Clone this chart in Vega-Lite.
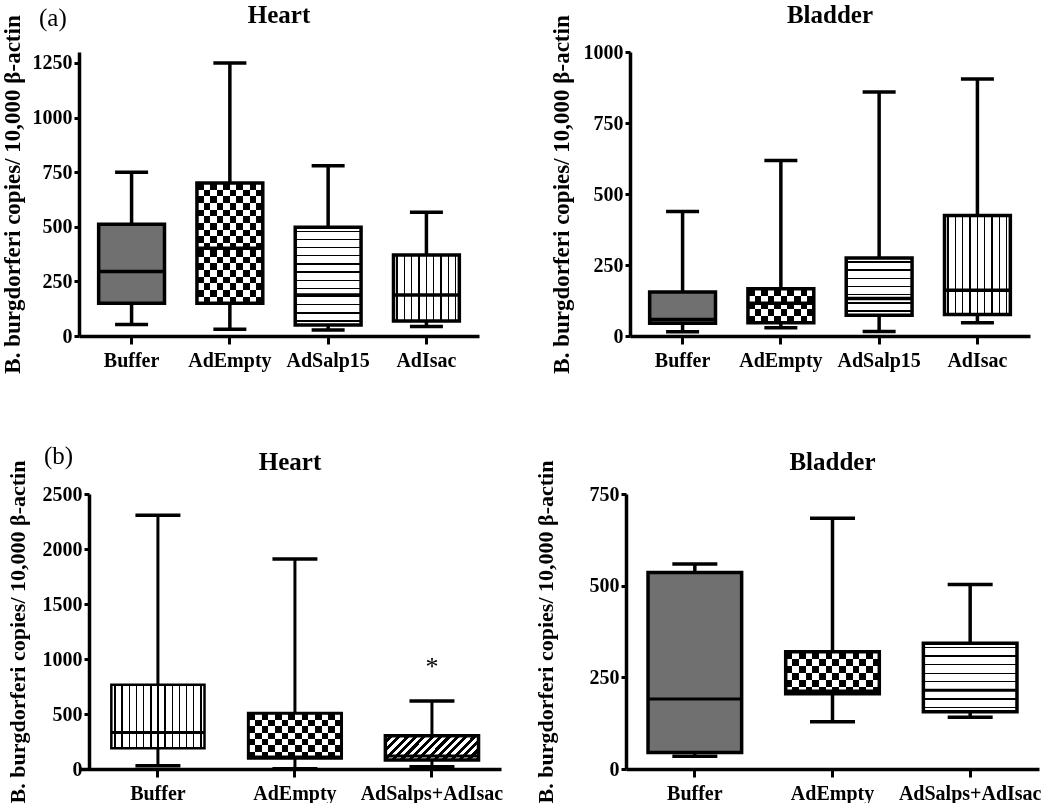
{
  "$schema": "https://vega.github.io/schema/vega-lite/v6.json",
  "padding": {"left": 0, "top": 2, "right": 0, "bottom": 0},
  "background": "white",
  "config": {
    "font": "Liberation Serif",
    "view": {"stroke": null},
    "tick": {"opacity": 1},
    "axisX": {"title": null, "labelAngle": 0, "labelFont": "Liberation Serif", "labelFontWeight": "bold", "labelFontSize": 20, "labelColor": "black", "domainColor": "black", "domainWidth": 3.5, "tickColor": "black", "tickWidth": 3, "tickSize": 8, "labelPadding": 6, "labelLimit": 300},
    "axisY": {"grid": false, "format": "d", "labelFont": "Liberation Serif", "labelFontWeight": "bold", "labelFontSize": 20, "labelColor": "black", "domainColor": "black", "domainWidth": 3.5, "tickColor": "black", "tickWidth": 3, "tickSize": 5, "labelPadding": 2, "titleFont": "Liberation Serif", "titleFontWeight": "bold", "titleFontSize": 23, "titleColor": "black", "titlePadding": 8},
    "title": {"font": "Liberation Serif", "fontWeight": "bold", "fontSize": 25, "color": "black", "frame": "group", "anchor": "middle"}
  },
  "spacing": 70,
  "columns": 1,
  "concat": [
    {
      "title": {"text": "(a)", "anchor": "start", "frame": "bounds", "fontWeight": "normal", "fontSize": 25, "offset": -28, "dx": 38},
      "spacing": 70,
      "hconcat": [
        {
          "width": 400, "height": 284,
          "title": {"text": "Heart", "offset": -13},
          "data": {"values": [
            {"group": "Buffer", "lo": 53, "q1": 150, "med": 295, "q3": 512, "hi": 749},
            {"group": "AdEmpty", "lo": 31, "q1": 150, "med": 402, "q3": 700, "hi": 1250},
            {"group": "AdSalp15", "lo": 28, "q1": 50, "med": 188, "q3": 498, "hi": 779},
            {"group": "AdIsac", "lo": 43, "q1": 69, "med": 188, "q3": 371, "hi": 567}
          ]},
          "encoding": {"x": {"field": "group", "type": "nominal", "sort": null, "scale": {"paddingInner": 0.33, "paddingOuter": 0.2}}},
          "layer": [
            {"mark": {"type": "rule", "strokeWidth": 3.5, "color": "black"},
             "encoding": {"y": {"field": "lo", "type": "quantitative", "scale": {"domain": [0, 1300], "nice": false}, "title": "B. burgdorferi copies/ 10,000 β-actin", "axis": {"values": [0, 250, 500, 750, 1000, 1250]}}, "y2": {"field": "hi"}}},
            {"mark": {"type": "tick", "size": 33, "thickness": 3.5, "color": "black"}, "encoding": {"y": {"field": "lo", "type": "quantitative"}}},
            {"mark": {"type": "tick", "size": 33, "thickness": 3.5, "color": "black"}, "encoding": {"y": {"field": "hi", "type": "quantitative"}}},
            {"transform": [{"filter": "datum.group === 'Buffer'"}],
             "mark": {"type": "bar", "fill": "#707070", "stroke": "black", "strokeWidth": 3.5},
             "encoding": {"y": {"field": "q1", "type": "quantitative"}, "y2": {"field": "q3"}}},
            {"transform": [{"filter": "datum.group === 'AdEmpty'"}],
             "mark": {"type": "bar", "strokeWidth": 0, "fill": {"gradient": "linear", "x1": 0, "y1": 0, "x2": 1, "y2": 0, "stops": [{"offset":0,"color":"#000"},{"offset":0.1,"color":"#000"},{"offset":0.1,"color":"#fff"},{"offset":0.2,"color":"#fff"},{"offset":0.2,"color":"#000"},{"offset":0.3,"color":"#000"},{"offset":0.3,"color":"#fff"},{"offset":0.4,"color":"#fff"},{"offset":0.4,"color":"#000"},{"offset":0.5,"color":"#000"},{"offset":0.5,"color":"#fff"},{"offset":0.6,"color":"#fff"},{"offset":0.6,"color":"#000"},{"offset":0.7,"color":"#000"},{"offset":0.7,"color":"#fff"},{"offset":0.8,"color":"#fff"},{"offset":0.8,"color":"#000"},{"offset":0.9,"color":"#000"},{"offset":0.9,"color":"#fff"},{"offset":1,"color":"#fff"}]}},
             "encoding": {"y": {"field": "q1", "type": "quantitative"}, "y2": {"field": "q3"}}},
            {"transform": [{"filter": "datum.group === 'AdEmpty'"}],
             "mark": {"type": "bar", "strokeWidth": 0, "blend": "difference", "fill": {"gradient": "linear", "x1": 0, "y1": 0, "x2": 0, "y2": 1, "stops": [{"offset":0,"color":"#000"},{"offset":0.0556,"color":"#000"},{"offset":0.0556,"color":"#fff"},{"offset":0.1111,"color":"#fff"},{"offset":0.1111,"color":"#000"},{"offset":0.1667,"color":"#000"},{"offset":0.1667,"color":"#fff"},{"offset":0.2222,"color":"#fff"},{"offset":0.2222,"color":"#000"},{"offset":0.2778,"color":"#000"},{"offset":0.2778,"color":"#fff"},{"offset":0.3333,"color":"#fff"},{"offset":0.3333,"color":"#000"},{"offset":0.3889,"color":"#000"},{"offset":0.3889,"color":"#fff"},{"offset":0.4444,"color":"#fff"},{"offset":0.4444,"color":"#000"},{"offset":0.5,"color":"#000"},{"offset":0.5,"color":"#fff"},{"offset":0.5556,"color":"#fff"},{"offset":0.5556,"color":"#000"},{"offset":0.6111,"color":"#000"},{"offset":0.6111,"color":"#fff"},{"offset":0.6667,"color":"#fff"},{"offset":0.6667,"color":"#000"},{"offset":0.7222,"color":"#000"},{"offset":0.7222,"color":"#fff"},{"offset":0.7778,"color":"#fff"},{"offset":0.7778,"color":"#000"},{"offset":0.8333,"color":"#000"},{"offset":0.8333,"color":"#fff"},{"offset":0.8889,"color":"#fff"},{"offset":0.8889,"color":"#000"},{"offset":0.9444,"color":"#000"},{"offset":0.9444,"color":"#fff"},{"offset":1,"color":"#fff"}]}},
             "encoding": {"y": {"field": "q1", "type": "quantitative"}, "y2": {"field": "q3"}}},
            {"transform": [{"filter": "datum.group === 'AdSalp15'"}],
             "mark": {"type": "bar", "stroke": "black", "strokeWidth": 3.5, "fill": {"gradient": "linear", "x1": 0, "y1": 0, "x2": 0, "y2": 1, "stops": [{"offset":0,"color":"#fff"},{"offset":0.035,"color":"#fff"},{"offset":0.035,"color":"#000"},{"offset":0.049,"color":"#000"},{"offset":0.049,"color":"#fff"},{"offset":0.118,"color":"#fff"},{"offset":0.118,"color":"#000"},{"offset":0.132,"color":"#000"},{"offset":0.132,"color":"#fff"},{"offset":0.201,"color":"#fff"},{"offset":0.201,"color":"#000"},{"offset":0.215,"color":"#000"},{"offset":0.215,"color":"#fff"},{"offset":0.285,"color":"#fff"},{"offset":0.285,"color":"#000"},{"offset":0.299,"color":"#000"},{"offset":0.299,"color":"#fff"},{"offset":0.368,"color":"#fff"},{"offset":0.368,"color":"#000"},{"offset":0.382,"color":"#000"},{"offset":0.382,"color":"#fff"},{"offset":0.451,"color":"#fff"},{"offset":0.451,"color":"#000"},{"offset":0.465,"color":"#000"},{"offset":0.465,"color":"#fff"},{"offset":0.535,"color":"#fff"},{"offset":0.535,"color":"#000"},{"offset":0.549,"color":"#000"},{"offset":0.549,"color":"#fff"},{"offset":0.618,"color":"#fff"},{"offset":0.618,"color":"#000"},{"offset":0.632,"color":"#000"},{"offset":0.632,"color":"#fff"},{"offset":0.701,"color":"#fff"},{"offset":0.701,"color":"#000"},{"offset":0.715,"color":"#000"},{"offset":0.715,"color":"#fff"},{"offset":0.785,"color":"#fff"},{"offset":0.785,"color":"#000"},{"offset":0.799,"color":"#000"},{"offset":0.799,"color":"#fff"},{"offset":0.868,"color":"#fff"},{"offset":0.868,"color":"#000"},{"offset":0.882,"color":"#000"},{"offset":0.882,"color":"#fff"},{"offset":0.951,"color":"#fff"},{"offset":0.951,"color":"#000"},{"offset":0.965,"color":"#000"},{"offset":0.965,"color":"#fff"},{"offset":1,"color":"#fff"}]}},
             "encoding": {"y": {"field": "q1", "type": "quantitative"}, "y2": {"field": "q3"}}},
            {"transform": [{"filter": "datum.group === 'AdIsac'"}],
             "mark": {"type": "bar", "stroke": "black", "strokeWidth": 3.5, "fill": {"gradient": "linear", "x1": 0, "y1": 0, "x2": 1, "y2": 0, "stops": [{"offset":0,"color":"#fff"},{"offset":0.045,"color":"#fff"},{"offset":0.045,"color":"#000"},{"offset":0.066,"color":"#000"},{"offset":0.066,"color":"#fff"},{"offset":0.156,"color":"#fff"},{"offset":0.156,"color":"#000"},{"offset":0.177,"color":"#000"},{"offset":0.177,"color":"#fff"},{"offset":0.267,"color":"#fff"},{"offset":0.267,"color":"#000"},{"offset":0.288,"color":"#000"},{"offset":0.288,"color":"#fff"},{"offset":0.378,"color":"#fff"},{"offset":0.378,"color":"#000"},{"offset":0.399,"color":"#000"},{"offset":0.399,"color":"#fff"},{"offset":0.49,"color":"#fff"},{"offset":0.49,"color":"#000"},{"offset":0.511,"color":"#000"},{"offset":0.511,"color":"#fff"},{"offset":0.601,"color":"#fff"},{"offset":0.601,"color":"#000"},{"offset":0.622,"color":"#000"},{"offset":0.622,"color":"#fff"},{"offset":0.712,"color":"#fff"},{"offset":0.712,"color":"#000"},{"offset":0.733,"color":"#000"},{"offset":0.733,"color":"#fff"},{"offset":0.823,"color":"#fff"},{"offset":0.823,"color":"#000"},{"offset":0.844,"color":"#000"},{"offset":0.844,"color":"#fff"},{"offset":0.934,"color":"#fff"},{"offset":0.934,"color":"#000"},{"offset":0.955,"color":"#000"},{"offset":0.955,"color":"#fff"},{"offset":1,"color":"#fff"}]}},
             "encoding": {"y": {"field": "q1", "type": "quantitative"}, "y2": {"field": "q3"}}},
            {"transform": [{"filter": "datum.group === 'AdEmpty'"}],
             "mark": {"type": "bar", "filled": false, "color": "black", "strokeWidth": 3.5},
             "encoding": {"y": {"field": "q1", "type": "quantitative"}, "y2": {"field": "q3"}}},
            {"mark": {"type": "tick", "size": 67, "thickness": 3.5, "color": "black"}, "encoding": {"y": {"field": "med", "type": "quantitative"}}}
          ]
        },
        {
          "width": 400, "height": 284,
          "title": {"text": "Bladder", "offset": -13},
          "data": {"values": [
            {"group": "Buffer", "lo": 15, "q1": 45, "med": 58, "q3": 155, "hi": 438},
            {"group": "AdEmpty", "lo": 29, "q1": 47, "med": 115, "q3": 166, "hi": 618},
            {"group": "AdSalp15", "lo": 16, "q1": 73, "med": 132, "q3": 275, "hi": 859},
            {"group": "AdIsac", "lo": 47, "q1": 76, "med": 161, "q3": 424, "hi": 905}
          ]},
          "encoding": {"x": {"field": "group", "type": "nominal", "sort": null, "scale": {"paddingInner": 0.33, "paddingOuter": 0.2}}},
          "layer": [
            {"mark": {"type": "rule", "strokeWidth": 3.5, "color": "black"},
             "encoding": {"y": {"field": "lo", "type": "quantitative", "scale": {"domain": [0, 1000], "nice": false}, "title": "B. burgdorferi copies/ 10,000 β-actin", "axis": {"values": [0, 250, 500, 750, 1000], "titlePadding": 10}}, "y2": {"field": "hi"}}},
            {"mark": {"type": "tick", "size": 33, "thickness": 3.5, "color": "black"}, "encoding": {"y": {"field": "lo", "type": "quantitative"}}},
            {"mark": {"type": "tick", "size": 33, "thickness": 3.5, "color": "black"}, "encoding": {"y": {"field": "hi", "type": "quantitative"}}},
            {"transform": [{"filter": "datum.group === 'Buffer'"}],
             "mark": {"type": "bar", "fill": "#707070", "stroke": "black", "strokeWidth": 3.5},
             "encoding": {"y": {"field": "q1", "type": "quantitative"}, "y2": {"field": "q3"}}},
            {"transform": [{"filter": "datum.group === 'AdEmpty'"}],
             "mark": {"type": "bar", "strokeWidth": 0, "fill": {"gradient": "linear", "x1": 0, "y1": 0, "x2": 1, "y2": 0, "stops": [{"offset":0,"color":"#000"},{"offset":0.1,"color":"#000"},{"offset":0.1,"color":"#fff"},{"offset":0.2,"color":"#fff"},{"offset":0.2,"color":"#000"},{"offset":0.3,"color":"#000"},{"offset":0.3,"color":"#fff"},{"offset":0.4,"color":"#fff"},{"offset":0.4,"color":"#000"},{"offset":0.5,"color":"#000"},{"offset":0.5,"color":"#fff"},{"offset":0.6,"color":"#fff"},{"offset":0.6,"color":"#000"},{"offset":0.7,"color":"#000"},{"offset":0.7,"color":"#fff"},{"offset":0.8,"color":"#fff"},{"offset":0.8,"color":"#000"},{"offset":0.9,"color":"#000"},{"offset":0.9,"color":"#fff"},{"offset":1,"color":"#fff"}]}},
             "encoding": {"y": {"field": "q1", "type": "quantitative"}, "y2": {"field": "q3"}}},
            {"transform": [{"filter": "datum.group === 'AdEmpty'"}],
             "mark": {"type": "bar", "strokeWidth": 0, "blend": "difference", "fill": {"gradient": "linear", "x1": 0, "y1": 0, "x2": 0, "y2": 1, "stops": [{"offset":0,"color":"#000"},{"offset":0.2,"color":"#000"},{"offset":0.2,"color":"#fff"},{"offset":0.4,"color":"#fff"},{"offset":0.4,"color":"#000"},{"offset":0.6,"color":"#000"},{"offset":0.6,"color":"#fff"},{"offset":0.8,"color":"#fff"},{"offset":0.8,"color":"#000"},{"offset":1,"color":"#000"}]}},
             "encoding": {"y": {"field": "q1", "type": "quantitative"}, "y2": {"field": "q3"}}},
            {"transform": [{"filter": "datum.group === 'AdSalp15'"}],
             "mark": {"type": "bar", "stroke": "black", "strokeWidth": 3.5, "fill": {"gradient": "linear", "x1": 0, "y1": 0, "x2": 0, "y2": 1, "stops": [{"offset":0,"color":"#fff"},{"offset":0.059,"color":"#fff"},{"offset":0.059,"color":"#000"},{"offset":0.084,"color":"#000"},{"offset":0.084,"color":"#fff"},{"offset":0.202,"color":"#fff"},{"offset":0.202,"color":"#000"},{"offset":0.227,"color":"#000"},{"offset":0.227,"color":"#fff"},{"offset":0.345,"color":"#fff"},{"offset":0.345,"color":"#000"},{"offset":0.37,"color":"#000"},{"offset":0.37,"color":"#fff"},{"offset":0.4875,"color":"#fff"},{"offset":0.4875,"color":"#000"},{"offset":0.5125,"color":"#000"},{"offset":0.5125,"color":"#fff"},{"offset":0.63,"color":"#fff"},{"offset":0.63,"color":"#000"},{"offset":0.655,"color":"#000"},{"offset":0.655,"color":"#fff"},{"offset":0.773,"color":"#fff"},{"offset":0.773,"color":"#000"},{"offset":0.798,"color":"#000"},{"offset":0.798,"color":"#fff"},{"offset":0.916,"color":"#fff"},{"offset":0.916,"color":"#000"},{"offset":0.941,"color":"#000"},{"offset":0.941,"color":"#fff"},{"offset":1,"color":"#fff"}]}},
             "encoding": {"y": {"field": "q1", "type": "quantitative"}, "y2": {"field": "q3"}}},
            {"transform": [{"filter": "datum.group === 'AdIsac'"}],
             "mark": {"type": "bar", "stroke": "black", "strokeWidth": 3.5, "fill": {"gradient": "linear", "x1": 0, "y1": 0, "x2": 1, "y2": 0, "stops": [{"offset":0,"color":"#fff"},{"offset":0.045,"color":"#fff"},{"offset":0.045,"color":"#000"},{"offset":0.066,"color":"#000"},{"offset":0.066,"color":"#fff"},{"offset":0.156,"color":"#fff"},{"offset":0.156,"color":"#000"},{"offset":0.177,"color":"#000"},{"offset":0.177,"color":"#fff"},{"offset":0.267,"color":"#fff"},{"offset":0.267,"color":"#000"},{"offset":0.288,"color":"#000"},{"offset":0.288,"color":"#fff"},{"offset":0.378,"color":"#fff"},{"offset":0.378,"color":"#000"},{"offset":0.399,"color":"#000"},{"offset":0.399,"color":"#fff"},{"offset":0.49,"color":"#fff"},{"offset":0.49,"color":"#000"},{"offset":0.511,"color":"#000"},{"offset":0.511,"color":"#fff"},{"offset":0.601,"color":"#fff"},{"offset":0.601,"color":"#000"},{"offset":0.622,"color":"#000"},{"offset":0.622,"color":"#fff"},{"offset":0.712,"color":"#fff"},{"offset":0.712,"color":"#000"},{"offset":0.733,"color":"#000"},{"offset":0.733,"color":"#fff"},{"offset":0.823,"color":"#fff"},{"offset":0.823,"color":"#000"},{"offset":0.844,"color":"#000"},{"offset":0.844,"color":"#fff"},{"offset":0.934,"color":"#fff"},{"offset":0.934,"color":"#000"},{"offset":0.955,"color":"#000"},{"offset":0.955,"color":"#fff"},{"offset":1,"color":"#fff"}]}},
             "encoding": {"y": {"field": "q1", "type": "quantitative"}, "y2": {"field": "q3"}}},
            {"transform": [{"filter": "datum.group === 'AdEmpty'"}],
             "mark": {"type": "bar", "filled": false, "color": "black", "strokeWidth": 3.5},
             "encoding": {"y": {"field": "q1", "type": "quantitative"}, "y2": {"field": "q3"}}},
            {"mark": {"type": "tick", "size": 67, "thickness": 3.5, "color": "black"}, "encoding": {"y": {"field": "med", "type": "quantitative"}}}
          ]
        }
      ]
    },
    {
      "title": {"text": "(b)", "anchor": "start", "frame": "bounds", "fontWeight": "normal", "fontSize": 25, "offset": -19, "dx": 38},
      "spacing": 30,
      "hconcat": [
        {
          "width": 422, "height": 275,
          "title": {"text": "Heart", "offset": -15},
          "data": {"values": [
            {"group": "Buffer", "lo": 30, "q1": 188, "med": 331, "q3": 765, "hi": 2306},
            {"group": "AdEmpty", "lo": 3, "q1": 97, "med": 110, "q3": 507, "hi": 1908},
            {"group": "AdSalps+AdIsac", "lo": 21, "q1": 82, "med": 118, "q3": 303, "hi": 619}
          ]},
          "encoding": {"x": {"field": "group", "type": "nominal", "sort": null, "scale": {"paddingInner": 0.32, "paddingOuter": 0.2, "align": 0.59}}},
          "layer": [
            {"mark": {"type": "rule", "strokeWidth": 3, "color": "black"},
             "encoding": {"y": {"field": "lo", "type": "quantitative", "scale": {"domain": [0, 2500], "nice": false}, "title": "B. burgdorferi copies/ 10,000 β-actin", "axis": {"values": [0, 500, 1000, 1500, 2000, 2500], "offset": -10, "titlePadding": 13, "titleFontSize": 22}}, "y2": {"field": "hi"}}},
            {"mark": {"type": "tick", "size": 45, "thickness": 3.5, "color": "black"}, "encoding": {"y": {"field": "lo", "type": "quantitative"}}},
            {"mark": {"type": "tick", "size": 45, "thickness": 3.5, "color": "black"}, "encoding": {"y": {"field": "hi", "type": "quantitative"}}},
            {"transform": [{"filter": "datum.group === 'Buffer'"}],
             "mark": {"type": "bar", "stroke": "black", "strokeWidth": 2.5, "fill": {"gradient": "linear", "x1": 0, "y1": 0, "x2": 1, "y2": 0, "stops": [{"offset":0,"color":"#fff"},{"offset":0.0305,"color":"#fff"},{"offset":0.0305,"color":"#000"},{"offset":0.0465,"color":"#000"},{"offset":0.0465,"color":"#fff"},{"offset":0.1074,"color":"#fff"},{"offset":0.1074,"color":"#000"},{"offset":0.1234,"color":"#000"},{"offset":0.1234,"color":"#fff"},{"offset":0.1843,"color":"#fff"},{"offset":0.1843,"color":"#000"},{"offset":0.2003,"color":"#000"},{"offset":0.2003,"color":"#fff"},{"offset":0.2612,"color":"#fff"},{"offset":0.2612,"color":"#000"},{"offset":0.2772,"color":"#000"},{"offset":0.2772,"color":"#fff"},{"offset":0.3382,"color":"#fff"},{"offset":0.3382,"color":"#000"},{"offset":0.3542,"color":"#000"},{"offset":0.3542,"color":"#fff"},{"offset":0.4151,"color":"#fff"},{"offset":0.4151,"color":"#000"},{"offset":0.4311,"color":"#000"},{"offset":0.4311,"color":"#fff"},{"offset":0.492,"color":"#fff"},{"offset":0.492,"color":"#000"},{"offset":0.508,"color":"#000"},{"offset":0.508,"color":"#fff"},{"offset":0.5689,"color":"#fff"},{"offset":0.5689,"color":"#000"},{"offset":0.5849,"color":"#000"},{"offset":0.5849,"color":"#fff"},{"offset":0.6458,"color":"#fff"},{"offset":0.6458,"color":"#000"},{"offset":0.6618,"color":"#000"},{"offset":0.6618,"color":"#fff"},{"offset":0.7228,"color":"#fff"},{"offset":0.7228,"color":"#000"},{"offset":0.7388,"color":"#000"},{"offset":0.7388,"color":"#fff"},{"offset":0.7997,"color":"#fff"},{"offset":0.7997,"color":"#000"},{"offset":0.8157,"color":"#000"},{"offset":0.8157,"color":"#fff"},{"offset":0.8766,"color":"#fff"},{"offset":0.8766,"color":"#000"},{"offset":0.8926,"color":"#000"},{"offset":0.8926,"color":"#fff"},{"offset":0.9535,"color":"#fff"},{"offset":0.9535,"color":"#000"},{"offset":0.9695,"color":"#000"},{"offset":0.9695,"color":"#fff"},{"offset":1,"color":"#fff"}]}},
             "encoding": {"y": {"field": "q1", "type": "quantitative"}, "y2": {"field": "q3"}}},
            {"transform": [{"filter": "datum.group === 'AdEmpty'"}],
             "mark": {"type": "bar", "strokeWidth": 0, "fill": {"gradient": "linear", "x1": 0, "y1": 0, "x2": 1, "y2": 0, "stops": [{"offset":0,"color":"#000"},{"offset":0.0714,"color":"#000"},{"offset":0.0714,"color":"#fff"},{"offset":0.1429,"color":"#fff"},{"offset":0.1429,"color":"#000"},{"offset":0.2143,"color":"#000"},{"offset":0.2143,"color":"#fff"},{"offset":0.2857,"color":"#fff"},{"offset":0.2857,"color":"#000"},{"offset":0.3571,"color":"#000"},{"offset":0.3571,"color":"#fff"},{"offset":0.4286,"color":"#fff"},{"offset":0.4286,"color":"#000"},{"offset":0.5,"color":"#000"},{"offset":0.5,"color":"#fff"},{"offset":0.5714,"color":"#fff"},{"offset":0.5714,"color":"#000"},{"offset":0.6429,"color":"#000"},{"offset":0.6429,"color":"#fff"},{"offset":0.7143,"color":"#fff"},{"offset":0.7143,"color":"#000"},{"offset":0.7857,"color":"#000"},{"offset":0.7857,"color":"#fff"},{"offset":0.8571,"color":"#fff"},{"offset":0.8571,"color":"#000"},{"offset":0.9286,"color":"#000"},{"offset":0.9286,"color":"#fff"},{"offset":1,"color":"#fff"}]}},
             "encoding": {"y": {"field": "q1", "type": "quantitative"}, "y2": {"field": "q3"}}},
            {"transform": [{"filter": "datum.group === 'AdEmpty'"}],
             "mark": {"type": "bar", "strokeWidth": 0, "blend": "difference", "fill": {"gradient": "linear", "x1": 0, "y1": 0, "x2": 0, "y2": 1, "stops": [{"offset":0,"color":"#000"},{"offset":0.1429,"color":"#000"},{"offset":0.1429,"color":"#fff"},{"offset":0.2857,"color":"#fff"},{"offset":0.2857,"color":"#000"},{"offset":0.4286,"color":"#000"},{"offset":0.4286,"color":"#fff"},{"offset":0.5714,"color":"#fff"},{"offset":0.5714,"color":"#000"},{"offset":0.7143,"color":"#000"},{"offset":0.7143,"color":"#fff"},{"offset":0.8571,"color":"#fff"},{"offset":0.8571,"color":"#000"},{"offset":1,"color":"#000"}]}},
             "encoding": {"y": {"field": "q1", "type": "quantitative"}, "y2": {"field": "q3"}}},
            {"transform": [{"filter": "datum.group === 'AdEmpty'"}],
             "mark": {"type": "bar", "filled": false, "color": "black", "strokeWidth": 3},
             "encoding": {"y": {"field": "q1", "type": "quantitative"}, "y2": {"field": "q3"}}},
            {"transform": [{"filter": "datum.group === 'AdSalps+AdIsac'"}],
             "mark": {"type": "bar", "stroke": "black", "strokeWidth": 3.5, "fill": {"gradient": "linear", "x1": 0, "y1": 0, "x2": 1.18, "y2": 0.304, "stops": [{"offset":0,"color":"#fff"},{"offset":0.0357,"color":"#fff"},{"offset":0.0357,"color":"#000"},{"offset":0.0714,"color":"#000"},{"offset":0.0714,"color":"#fff"},{"offset":0.1071,"color":"#fff"},{"offset":0.1071,"color":"#000"},{"offset":0.1429,"color":"#000"},{"offset":0.1429,"color":"#fff"},{"offset":0.1786,"color":"#fff"},{"offset":0.1786,"color":"#000"},{"offset":0.2143,"color":"#000"},{"offset":0.2143,"color":"#fff"},{"offset":0.25,"color":"#fff"},{"offset":0.25,"color":"#000"},{"offset":0.2857,"color":"#000"},{"offset":0.2857,"color":"#fff"},{"offset":0.3214,"color":"#fff"},{"offset":0.3214,"color":"#000"},{"offset":0.3571,"color":"#000"},{"offset":0.3571,"color":"#fff"},{"offset":0.3929,"color":"#fff"},{"offset":0.3929,"color":"#000"},{"offset":0.4286,"color":"#000"},{"offset":0.4286,"color":"#fff"},{"offset":0.4643,"color":"#fff"},{"offset":0.4643,"color":"#000"},{"offset":0.5,"color":"#000"},{"offset":0.5,"color":"#fff"},{"offset":0.5357,"color":"#fff"},{"offset":0.5357,"color":"#000"},{"offset":0.5714,"color":"#000"},{"offset":0.5714,"color":"#fff"},{"offset":0.6071,"color":"#fff"},{"offset":0.6071,"color":"#000"},{"offset":0.6429,"color":"#000"},{"offset":0.6429,"color":"#fff"},{"offset":0.6786,"color":"#fff"},{"offset":0.6786,"color":"#000"},{"offset":0.7143,"color":"#000"},{"offset":0.7143,"color":"#fff"},{"offset":0.75,"color":"#fff"},{"offset":0.75,"color":"#000"},{"offset":0.7857,"color":"#000"},{"offset":0.7857,"color":"#fff"},{"offset":0.8214,"color":"#fff"},{"offset":0.8214,"color":"#000"},{"offset":0.8571,"color":"#000"},{"offset":0.8571,"color":"#fff"},{"offset":0.8929,"color":"#fff"},{"offset":0.8929,"color":"#000"},{"offset":0.9286,"color":"#000"},{"offset":0.9286,"color":"#fff"},{"offset":0.9643,"color":"#fff"},{"offset":0.9643,"color":"#000"},{"offset":1,"color":"#000"}]}},
             "encoding": {"y": {"field": "q1", "type": "quantitative"}, "y2": {"field": "q3"}}},
            {"mark": {"type": "tick", "size": 93, "thickness": 3, "color": "black"}, "encoding": {"y": {"field": "med", "type": "quantitative"}}},
            {"transform": [{"filter": "datum.group === 'AdSalps+AdIsac'"}],
             "mark": {"type": "text", "text": "*", "fontSize": 26, "font": "Liberation Serif", "color": "black", "baseline": "middle"},
             "encoding": {"y": {"datum": 931, "type": "quantitative"}}}
          ]
        },
        {
          "width": 413, "height": 275,
          "title": {"text": "Bladder", "offset": -15},
          "data": {"values": [
            {"group": "Buffer", "lo": 35, "q1": 45, "med": 191, "q3": 536, "hi": 559},
            {"group": "AdEmpty", "lo": 129, "q1": 205, "med": 213, "q3": 320, "hi": 684},
            {"group": "AdSalps+AdIsac", "lo": 141, "q1": 156, "med": 215, "q3": 343, "hi": 503}
          ]},
          "encoding": {"x": {"field": "group", "type": "nominal", "sort": null, "scale": {"paddingInner": 0.32, "paddingOuter": 0.16}}},
          "layer": [
            {"mark": {"type": "rule", "strokeWidth": 3.5, "color": "black"},
             "encoding": {"y": {"field": "lo", "type": "quantitative", "scale": {"domain": [0, 750], "nice": false}, "title": "B. burgdorferi copies/ 10,000 β-actin", "axis": {"values": [0, 250, 500, 750], "titlePadding": 32, "titleFontSize": 22}}, "y2": {"field": "hi"}}},
            {"mark": {"type": "tick", "size": 45, "thickness": 3.5, "color": "black"}, "encoding": {"y": {"field": "lo", "type": "quantitative"}}},
            {"mark": {"type": "tick", "size": 45, "thickness": 3.5, "color": "black"}, "encoding": {"y": {"field": "hi", "type": "quantitative"}}},
            {"transform": [{"filter": "datum.group === 'Buffer'"}],
             "mark": {"type": "bar", "fill": "#707070", "stroke": "black", "strokeWidth": 3.5},
             "encoding": {"y": {"field": "q1", "type": "quantitative"}, "y2": {"field": "q3"}}},
            {"transform": [{"filter": "datum.group === 'AdEmpty'"}],
             "mark": {"type": "bar", "strokeWidth": 0, "fill": {"gradient": "linear", "x1": 0, "y1": 0, "x2": 1, "y2": 0, "stops": [{"offset":0,"color":"#000"},{"offset":0.0714,"color":"#000"},{"offset":0.0714,"color":"#fff"},{"offset":0.1429,"color":"#fff"},{"offset":0.1429,"color":"#000"},{"offset":0.2143,"color":"#000"},{"offset":0.2143,"color":"#fff"},{"offset":0.2857,"color":"#fff"},{"offset":0.2857,"color":"#000"},{"offset":0.3571,"color":"#000"},{"offset":0.3571,"color":"#fff"},{"offset":0.4286,"color":"#fff"},{"offset":0.4286,"color":"#000"},{"offset":0.5,"color":"#000"},{"offset":0.5,"color":"#fff"},{"offset":0.5714,"color":"#fff"},{"offset":0.5714,"color":"#000"},{"offset":0.6429,"color":"#000"},{"offset":0.6429,"color":"#fff"},{"offset":0.7143,"color":"#fff"},{"offset":0.7143,"color":"#000"},{"offset":0.7857,"color":"#000"},{"offset":0.7857,"color":"#fff"},{"offset":0.8571,"color":"#fff"},{"offset":0.8571,"color":"#000"},{"offset":0.9286,"color":"#000"},{"offset":0.9286,"color":"#fff"},{"offset":1,"color":"#fff"}]}},
             "encoding": {"y": {"field": "q1", "type": "quantitative"}, "y2": {"field": "q3"}}},
            {"transform": [{"filter": "datum.group === 'AdEmpty'"}],
             "mark": {"type": "bar", "strokeWidth": 0, "blend": "difference", "fill": {"gradient": "linear", "x1": 0, "y1": 0, "x2": 0, "y2": 1, "stops": [{"offset":0,"color":"#000"},{"offset":0.1667,"color":"#000"},{"offset":0.1667,"color":"#fff"},{"offset":0.3333,"color":"#fff"},{"offset":0.3333,"color":"#000"},{"offset":0.5,"color":"#000"},{"offset":0.5,"color":"#fff"},{"offset":0.6667,"color":"#fff"},{"offset":0.6667,"color":"#000"},{"offset":0.8333,"color":"#000"},{"offset":0.8333,"color":"#fff"},{"offset":1,"color":"#fff"}]}},
             "encoding": {"y": {"field": "q1", "type": "quantitative"}, "y2": {"field": "q3"}}},
            {"transform": [{"filter": "datum.group === 'AdEmpty'"}],
             "mark": {"type": "bar", "filled": false, "color": "black", "strokeWidth": 3.5},
             "encoding": {"y": {"field": "q1", "type": "quantitative"}, "y2": {"field": "q3"}}},
            {"transform": [{"filter": "datum.group === 'AdSalps+AdIsac'"}],
             "mark": {"type": "bar", "stroke": "black", "strokeWidth": 3.5, "fill": {"gradient": "linear", "x1": 0, "y1": 0, "x2": 0, "y2": 1, "stops": [{"offset":0,"color":"#fff"},{"offset":0.0525,"color":"#fff"},{"offset":0.0525,"color":"#000"},{"offset":0.0725,"color":"#000"},{"offset":0.0725,"color":"#fff"},{"offset":0.1775,"color":"#fff"},{"offset":0.1775,"color":"#000"},{"offset":0.1975,"color":"#000"},{"offset":0.1975,"color":"#fff"},{"offset":0.3025,"color":"#fff"},{"offset":0.3025,"color":"#000"},{"offset":0.3225,"color":"#000"},{"offset":0.3225,"color":"#fff"},{"offset":0.4275,"color":"#fff"},{"offset":0.4275,"color":"#000"},{"offset":0.4475,"color":"#000"},{"offset":0.4475,"color":"#fff"},{"offset":0.5525,"color":"#fff"},{"offset":0.5525,"color":"#000"},{"offset":0.5725,"color":"#000"},{"offset":0.5725,"color":"#fff"},{"offset":0.6775,"color":"#fff"},{"offset":0.6775,"color":"#000"},{"offset":0.6975,"color":"#000"},{"offset":0.6975,"color":"#fff"},{"offset":0.8025,"color":"#fff"},{"offset":0.8025,"color":"#000"},{"offset":0.8225,"color":"#000"},{"offset":0.8225,"color":"#fff"},{"offset":0.9275,"color":"#fff"},{"offset":0.9275,"color":"#000"},{"offset":0.9475,"color":"#000"},{"offset":0.9475,"color":"#fff"},{"offset":1,"color":"#fff"}]}},
             "encoding": {"y": {"field": "q1", "type": "quantitative"}, "y2": {"field": "q3"}}},
            {"mark": {"type": "tick", "size": 93, "thickness": 3, "color": "black"}, "encoding": {"y": {"field": "med", "type": "quantitative"}}}
          ]
        }
      ]
    }
  ]
}
